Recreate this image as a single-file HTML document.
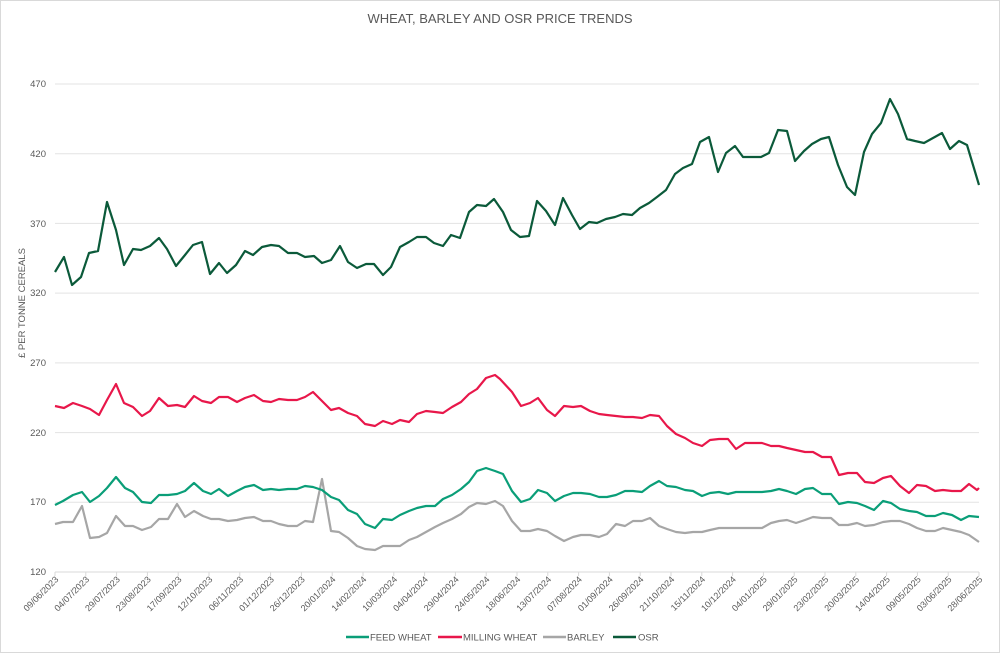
<!DOCTYPE html>
<html><head><meta charset="utf-8"><style>
html,body{margin:0;padding:0;background:#fff}
svg{display:block;font-family:"Liberation Sans",sans-serif}
</style></head><body>
<svg width="1000" height="653" viewBox="0 0 1000 653" xmlns="http://www.w3.org/2000/svg">
<rect x="0.5" y="0.5" width="999" height="652" fill="#fff" stroke="#d9d9d9"/>
<text x="500" y="23" text-anchor="middle" font-size="13" fill="#595959">WHEAT, BARLEY AND OSR PRICE TRENDS</text>
<g stroke="#e3e3e3" stroke-width="1">
<line x1="55" x2="979" y1="84" y2="84"/><line x1="55" x2="979" y1="153.7" y2="153.7"/>
<line x1="55" x2="979" y1="223.4" y2="223.4"/><line x1="55" x2="979" y1="293.1" y2="293.1"/>
<line x1="55" x2="979" y1="362.9" y2="362.9"/><line x1="55" x2="979" y1="432.6" y2="432.6"/>
<line x1="55" x2="979" y1="502.3" y2="502.3"/>
</g>
<line x1="55" x2="979" y1="572" y2="572" stroke="#d9d9d9"/>
<g font-size="9.5" fill="#595959" text-anchor="end">
<text x="46" y="87">470</text><text x="46" y="157">420</text><text x="46" y="227">370</text>
<text x="46" y="296">320</text><text x="46" y="366">270</text><text x="46" y="436">220</text>
<text x="46" y="505">170</text><text x="46" y="575">120</text>
</g>
<text transform="translate(25,303) rotate(-90)" text-anchor="middle" font-size="9.5" fill="#595959">£ PER TONNE CEREALS</text>
<g id="xt" font-size="9" fill="#595959" text-anchor="end"></g>
<g stroke-width="2.2" fill="none" stroke-linejoin="round">
<polyline stroke="#a6a6a6" points="55,524 63,522 73,522 82,506 90,538 99,537 107,533 116,516 125,526 133,526 142,530 151,527 159,519 168,519 177,504 185,517 194,511 203,516 211,519 219,519 228,521 237,520 245,518 254,517 263,521 271,521 279,524 288,526 297,526 305,521 313,522 322,479 331,531 339,532 348,538 357,546 365,549 375,550 383,546 392,546 400,546 409,540 417,537 426,532 435,527 443,523 452,519 461,514 469,507 477,503 486,504 495,501 503,506 512,521 521,531 530,531 538,529 547,531 555,536 564,541 573,537 581,535 590,535 599,537 607,534 616,524 625,526 633,521 642,521 650,518 659,526 667,529 676,532 685,533 693,532 702,532 710,530 719,528 728,528 736,528 745,528 754,528 762,528 771,523 779,521 787,520 796,523 805,520 813,517 822,518 831,518 839,525 848,525 857,523 865,526 874,525 883,522 891,521 900,521 909,524 917,528 926,531 935,531 943,528 952,530 961,532 969,535 979,542"/>
<polyline stroke="#0a9e78" points="55,505 63,501 73,495 82,492 90,502 99,496 107,488 116,477 125,488 133,492 142,502 151,503 159,495 168,495 177,494 185,491 194,483 203,491 211,494 219,489 228,496 237,491 245,487 254,485 263,490 271,489 279,490 288,489 297,489 305,486 313,487 322,490 331,497 339,500 348,510 357,514 365,524 375,528 383,519 392,520 400,515 409,511 417,508 426,506 435,506 443,499 452,495 461,489 469,482 477,471 486,468 495,471 503,474 512,491 521,502 530,499 538,490 547,493 555,501 564,496 573,493 581,493 590,494 599,497 607,497 616,495 625,491 633,491 642,492 650,486 659,481 667,486 676,487 685,490 693,491 702,496 710,493 719,492 728,494 736,492 745,492 754,492 762,492 771,491 779,489 787,491 796,494 805,489 813,488 822,494 831,494 839,504 848,502 857,503 865,506 874,510 883,501 891,503 900,509 909,511 917,512 926,516 935,516 943,513 952,515 961,520 969,516 979,517"/>
<polyline stroke="#e8174a" points="55,406 64,408 73,403 82,406 90,409 99,415 107,400 116,384 124,403 133,407 142,416 150,411 159,398 168,406 177,405 185,407 194,396 202,401 211,403 219,397 228,397 237,402 245,398 254,395 263,401 271,402 279,399 288,400 297,400 305,397 313,392 322,401 331,410 339,408 348,413 357,416 365,424 375,426 383,421 392,424 400,420 409,422 417,414 426,411 435,412 443,413 452,407 461,402 469,394 477,389 486,378 495,375 500,379 512,392 521,406 530,403 538,398 547,410 555,416 564,406 573,407 581,406 590,411 599,414 607,415 616,416 625,417 633,417 642,418 650,415 659,416 667,426 676,434 685,438 693,443 702,446 710,440 719,439 728,439 736,449 745,443 754,443 762,443 771,446 779,446 787,448 796,450 805,452 813,452 822,457 831,457 839,475 848,473 857,473 865,482 874,483 883,478 891,476 900,486 909,493 917,485 926,486 935,491 943,490 952,491 961,491 969,484 977,490 979,488"/>
<polyline stroke="#0b5a3a" points="55,272 64,257 72,285 81,277 89,253 98,251 107,202 116,230 124,265 133,249 141,250 150,246 159,238 167,249 176,266 185,255 193,245 202,242 210,274 219,263 227,273 236,265 245,251 253,255 262,247 271,245 279,246 288,253 297,253 305,257 314,256 322,263 331,260 340,246 348,262 357,268 366,264 374,264 383,275 391,267 400,247 409,242 417,237 426,237 434,243 443,246 451,235 460,238 469,212 477,205 486,206 494,199 503,212 511,230 520,237 529,236 537,201 546,211 555,225 563,198 572,215 580,229 589,222 597,223 606,219 615,217 623,214 632,215 640,208 649,203 657,197 666,190 675,174 683,168 692,164 700,142 709,137 718,172 726,153 735,146 743,157 752,157 761,157 769,153 778,130 787,131 795,161 804,151 812,144 821,139 829,137 838,165 847,187 855,195 864,152 872,134 881,123 890,99 898,114 907,139 915,141 924,143 933,138 942,133 950,149 959,141 967,145 979,185"/>
</g>
<g font-size="9.5" fill="#595959">
<line x1="346" x2="369" y1="637" y2="637" stroke="#0a9e78" stroke-width="2.5"/><text x="370" y="640.5">FEED WHEAT</text>
<line x1="438" x2="462" y1="637" y2="637" stroke="#e8174a" stroke-width="2.5"/><text x="463" y="640.5">MILLING WHEAT</text>
<line x1="543" x2="566" y1="637" y2="637" stroke="#a6a6a6" stroke-width="2.5"/><text x="567" y="640.5">BARLEY</text>
<line x1="613" x2="636" y1="637" y2="637" stroke="#0b5a3a" stroke-width="2.5"/><text x="638" y="640.5">OSR</text>
</g>
<g stroke="#d9d9d9">
<line x1="55" x2="55" y1="572" y2="576"/><line x1="85.8" x2="85.8" y1="572" y2="576"/><line x1="116.6" x2="116.6" y1="572" y2="576"/><line x1="147.4" x2="147.4" y1="572" y2="576"/><line x1="178.2" x2="178.2" y1="572" y2="576"/><line x1="209" x2="209" y1="572" y2="576"/><line x1="239.8" x2="239.8" y1="572" y2="576"/><line x1="270.6" x2="270.6" y1="572" y2="576"/><line x1="301.4" x2="301.4" y1="572" y2="576"/><line x1="332.2" x2="332.2" y1="572" y2="576"/><line x1="363" x2="363" y1="572" y2="576"/><line x1="393.8" x2="393.8" y1="572" y2="576"/><line x1="424.6" x2="424.6" y1="572" y2="576"/><line x1="455.4" x2="455.4" y1="572" y2="576"/><line x1="486.2" x2="486.2" y1="572" y2="576"/><line x1="517" x2="517" y1="572" y2="576"/><line x1="547.8" x2="547.8" y1="572" y2="576"/><line x1="578.6" x2="578.6" y1="572" y2="576"/><line x1="609.4" x2="609.4" y1="572" y2="576"/><line x1="640.2" x2="640.2" y1="572" y2="576"/><line x1="671" x2="671" y1="572" y2="576"/><line x1="701.8" x2="701.8" y1="572" y2="576"/><line x1="732.6" x2="732.6" y1="572" y2="576"/><line x1="763.4" x2="763.4" y1="572" y2="576"/><line x1="794.2" x2="794.2" y1="572" y2="576"/><line x1="825" x2="825" y1="572" y2="576"/><line x1="855.8" x2="855.8" y1="572" y2="576"/><line x1="886.6" x2="886.6" y1="572" y2="576"/><line x1="917.4" x2="917.4" y1="572" y2="576"/><line x1="948.2" x2="948.2" y1="572" y2="576"/><line x1="979" x2="979" y1="572" y2="576"/>
</g>
<g font-size="9" fill="#595959" text-anchor="end">
<text transform="translate(59,580) rotate(-45)">09/06/2023</text>
<text transform="translate(89.8,580) rotate(-45)">04/07/2023</text>
<text transform="translate(120.6,580) rotate(-45)">29/07/2023</text>
<text transform="translate(151.4,580) rotate(-45)">23/08/2023</text>
<text transform="translate(182.2,580) rotate(-45)">17/09/2023</text>
<text transform="translate(213,580) rotate(-45)">12/10/2023</text>
<text transform="translate(243.8,580) rotate(-45)">06/11/2023</text>
<text transform="translate(274.6,580) rotate(-45)">01/12/2023</text>
<text transform="translate(305.4,580) rotate(-45)">26/12/2023</text>
<text transform="translate(336.2,580) rotate(-45)">20/01/2024</text>
<text transform="translate(367,580) rotate(-45)">14/02/2024</text>
<text transform="translate(397.8,580) rotate(-45)">10/03/2024</text>
<text transform="translate(428.6,580) rotate(-45)">04/04/2024</text>
<text transform="translate(459.4,580) rotate(-45)">29/04/2024</text>
<text transform="translate(490.2,580) rotate(-45)">24/05/2024</text>
<text transform="translate(521,580) rotate(-45)">18/06/2024</text>
<text transform="translate(551.8,580) rotate(-45)">13/07/2024</text>
<text transform="translate(582.6,580) rotate(-45)">07/08/2024</text>
<text transform="translate(613.4,580) rotate(-45)">01/09/2024</text>
<text transform="translate(644.2,580) rotate(-45)">26/09/2024</text>
<text transform="translate(675,580) rotate(-45)">21/10/2024</text>
<text transform="translate(705.8,580) rotate(-45)">15/11/2024</text>
<text transform="translate(736.6,580) rotate(-45)">10/12/2024</text>
<text transform="translate(767.4,580) rotate(-45)">04/01/2025</text>
<text transform="translate(798.2,580) rotate(-45)">29/01/2025</text>
<text transform="translate(829,580) rotate(-45)">23/02/2025</text>
<text transform="translate(859.8,580) rotate(-45)">20/03/2025</text>
<text transform="translate(890.6,580) rotate(-45)">14/04/2025</text>
<text transform="translate(921.4,580) rotate(-45)">09/05/2025</text>
<text transform="translate(952.2,580) rotate(-45)">03/06/2025</text>
<text transform="translate(983,580) rotate(-45)">28/06/2025</text>
</g>
</svg>
</body></html>
